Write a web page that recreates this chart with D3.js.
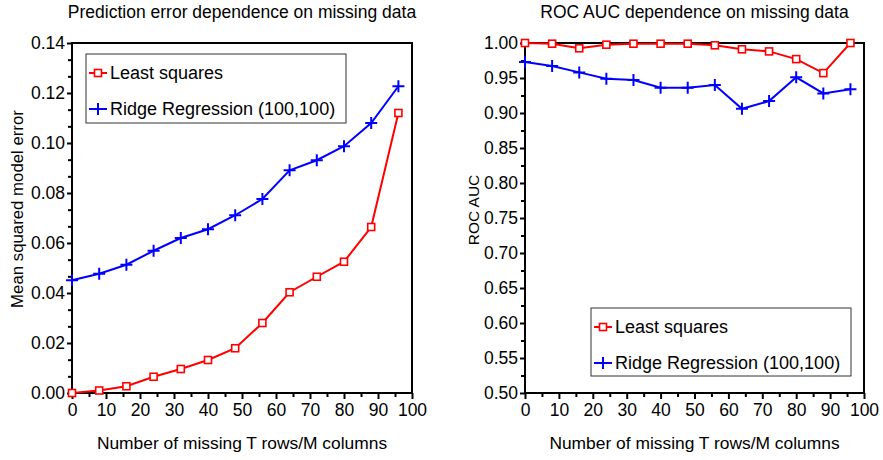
<!DOCTYPE html>
<html>
<head>
<meta charset="utf-8">
<script src="https://cdn.jsdelivr.net/npm/d3@7"></script>
<style>
  body { margin: 0; background: #fff; }
  text { font-family: "Liberation Sans", Arial, sans-serif; fill: #000; }
</style>
</head>
<body>
<svg id="chart" width="883" height="460"></svg>
<script>
// data
const missing = [0, 8, 16, 24, 32, 40, 48, 56, 64, 72, 80, 88, 96];
const mseLeastSquares = [0.000, 0.001, 0.0027, 0.0065, 0.0096, 0.0132, 0.0179, 0.028, 0.0403, 0.0465, 0.0525, 0.0664, 0.112];
const mseRidge = [0.0451, 0.0477, 0.0513, 0.0569, 0.062, 0.0655, 0.0711, 0.0776, 0.0891, 0.0931, 0.0987, 0.108, 0.1227];
const aucLeastSquares = [1.000, 0.999, 0.9924, 0.9976, 0.999, 0.999, 0.999, 0.9967, 0.991, 0.988, 0.977, 0.957, 1.000];
const aucRidge = [0.973, 0.967, 0.958, 0.949, 0.947, 0.936, 0.936, 0.940, 0.906, 0.917, 0.951, 0.928, 0.934];
const seriesNames = ["Least squares", "Ridge Regression (100,100)"];
const seriesColors = ["#ff0000", "#0000ff"];

const svg = d3.select("#chart");

function drawPanel(opt) {
  const x = d3.scaleLinear().domain([0, 100]).range([opt.left, opt.right]);
  const y = d3.scaleLinear().domain(opt.yDomain).range([opt.bottom, opt.top]);
  const g = svg.append("g");

  // title
  g.append("text")
    .attr("x", (opt.left + opt.right) / 2)
    .attr("y", 18)
    .attr("text-anchor", "middle")
    .style("font-size", "17.5px")
    .text(opt.title);

  // minor ticks
  g.append("g")
    .attr("transform", "translate(0," + opt.bottom + ")")
    .call(d3.axisBottom(x).tickValues(d3.range(5, 100, 10)).tickSize(4).tickFormat(""))
    .call(a => a.select(".domain").remove())
    .selectAll("line").attr("stroke-width", 2);
  g.append("g")
    .attr("transform", "translate(" + opt.left + ",0)")
    .call(d3.axisLeft(y).tickValues(opt.yMinor).tickSize(4).tickFormat(""))
    .call(a => a.select(".domain").remove())
    .selectAll("line").attr("stroke-width", 2);

  // major axes
  const xAxis = g.append("g")
    .attr("transform", "translate(0," + opt.bottom + ")")
    .call(d3.axisBottom(x).tickValues(d3.range(0, 101, 10)).tickSize(6).tickSizeOuter(0).tickPadding(5));
  const yAxis = g.append("g")
    .attr("transform", "translate(" + opt.left + ",0)")
    .call(d3.axisLeft(y).tickValues(opt.yTicks).tickSize(5).tickSizeOuter(0).tickPadding(2).tickFormat(d3.format(".2f")));
  [xAxis, yAxis].forEach(a => {
    a.selectAll("text").style("font-size", "17.5px").attr("fill", "#000");
    a.selectAll("line").attr("stroke-width", 2);
    a.select(".domain").remove();
  });

  // frame
  g.append("rect")
    .attr("x", opt.left).attr("y", opt.top)
    .attr("width", opt.right - opt.left).attr("height", opt.bottom - opt.top)
    .attr("fill", "none").attr("stroke", "#000").attr("stroke-width", 2);

  // axis titles
  g.append("text")
    .attr("x", (opt.left + opt.right) / 2)
    .attr("y", 449)
    .attr("text-anchor", "middle")
    .style("font-size", "17.4px")
    .text("Number of missing T rows/M columns");
  g.append("text")
    .attr("transform", "translate(" + opt.yLabelX + "," + opt.yLabelY + ") rotate(-90)")
    .attr("text-anchor", "middle")
    .style("font-size", opt.yLabelSize)
    .text(opt.yLabel);

  // series
  const line = d3.line().x(d => x(d[0])).y(d => y(d[1]));
  opt.series.forEach((vals, i) => {
    const pts = missing.map((m, j) => [m, vals[j]]);
    g.append("path")
      .attr("d", line(pts))
      .attr("fill", "none")
      .attr("stroke", seriesColors[i])
      .attr("stroke-width", 2);
    pts.forEach(p => drawMarker(g, i, x(p[0]), y(p[1])));
  });

  // legend
  const lg = g.append("g");
  lg.append("rect")
    .attr("x", opt.legend[0]).attr("y", opt.legend[1])
    .attr("width", opt.legend[2]).attr("height", opt.legend[3])
    .attr("fill", "#fff").attr("stroke", "#333").attr("stroke-width", 1);
  seriesNames.forEach((name, i) => {
    const ly = opt.legend[1] + 19 + i * 36;
    const lx = opt.legend[0] + 3;
    lg.append("line")
      .attr("x1", lx).attr("x2", lx + 18)
      .attr("y1", ly).attr("y2", ly)
      .attr("stroke", seriesColors[i]).attr("stroke-width", 2);
    drawMarker(lg, i, lx + 9, ly);
    lg.append("text")
      .attr("x", lx + 21).attr("y", ly + 6)
      .style("font-size", "18px")
      .text(name);
  });
}

function drawMarker(g, i, cx, cy) {
  if (i === 0) {
    g.append("rect")
      .attr("x", cx - 3.5).attr("y", cy - 3.5)
      .attr("width", 7).attr("height", 7)
      .attr("fill", "#fff").attr("stroke", seriesColors[0]).attr("stroke-width", 1.6);
  } else {
    g.append("path")
      .attr("d", `M${cx - 6},${cy}H${cx + 6}M${cx},${cy - 6}V${cy + 6}`)
      .attr("stroke", seriesColors[1]).attr("stroke-width", 2);
  }
}

drawPanel({
  left: 72, right: 412, top: 43, bottom: 393,
  yDomain: [0, 0.14],
  yTicks: d3.range(0, 0.141, 0.02),
  yMinor: d3.range(0, 21).map(k => k * 0.02 / 3).filter((d, k) => k % 3 !== 0),
  yLabel: "Mean squared model error", yLabelX: 23, yLabelY: 209, yLabelSize: "16.8px",
  title: "Prediction error dependence on missing data",
  series: [mseLeastSquares, mseRidge],
  legend: [86, 54, 260, 69]
});

drawPanel({
  left: 525, right: 864, top: 43, bottom: 393,
  yDomain: [0.5, 1.0],
  yTicks: d3.range(0.5, 1.001, 0.05),
  yMinor: d3.range(0.525, 1.0, 0.05),
  yLabel: "ROC AUC", yLabelX: 479, yLabelY: 210, yLabelSize: "15.5px",
  title: "ROC AUC dependence on missing data",
  series: [aucLeastSquares, aucRidge],
  legend: [591, 308, 260, 68]
});
</script>
</body>
</html>
